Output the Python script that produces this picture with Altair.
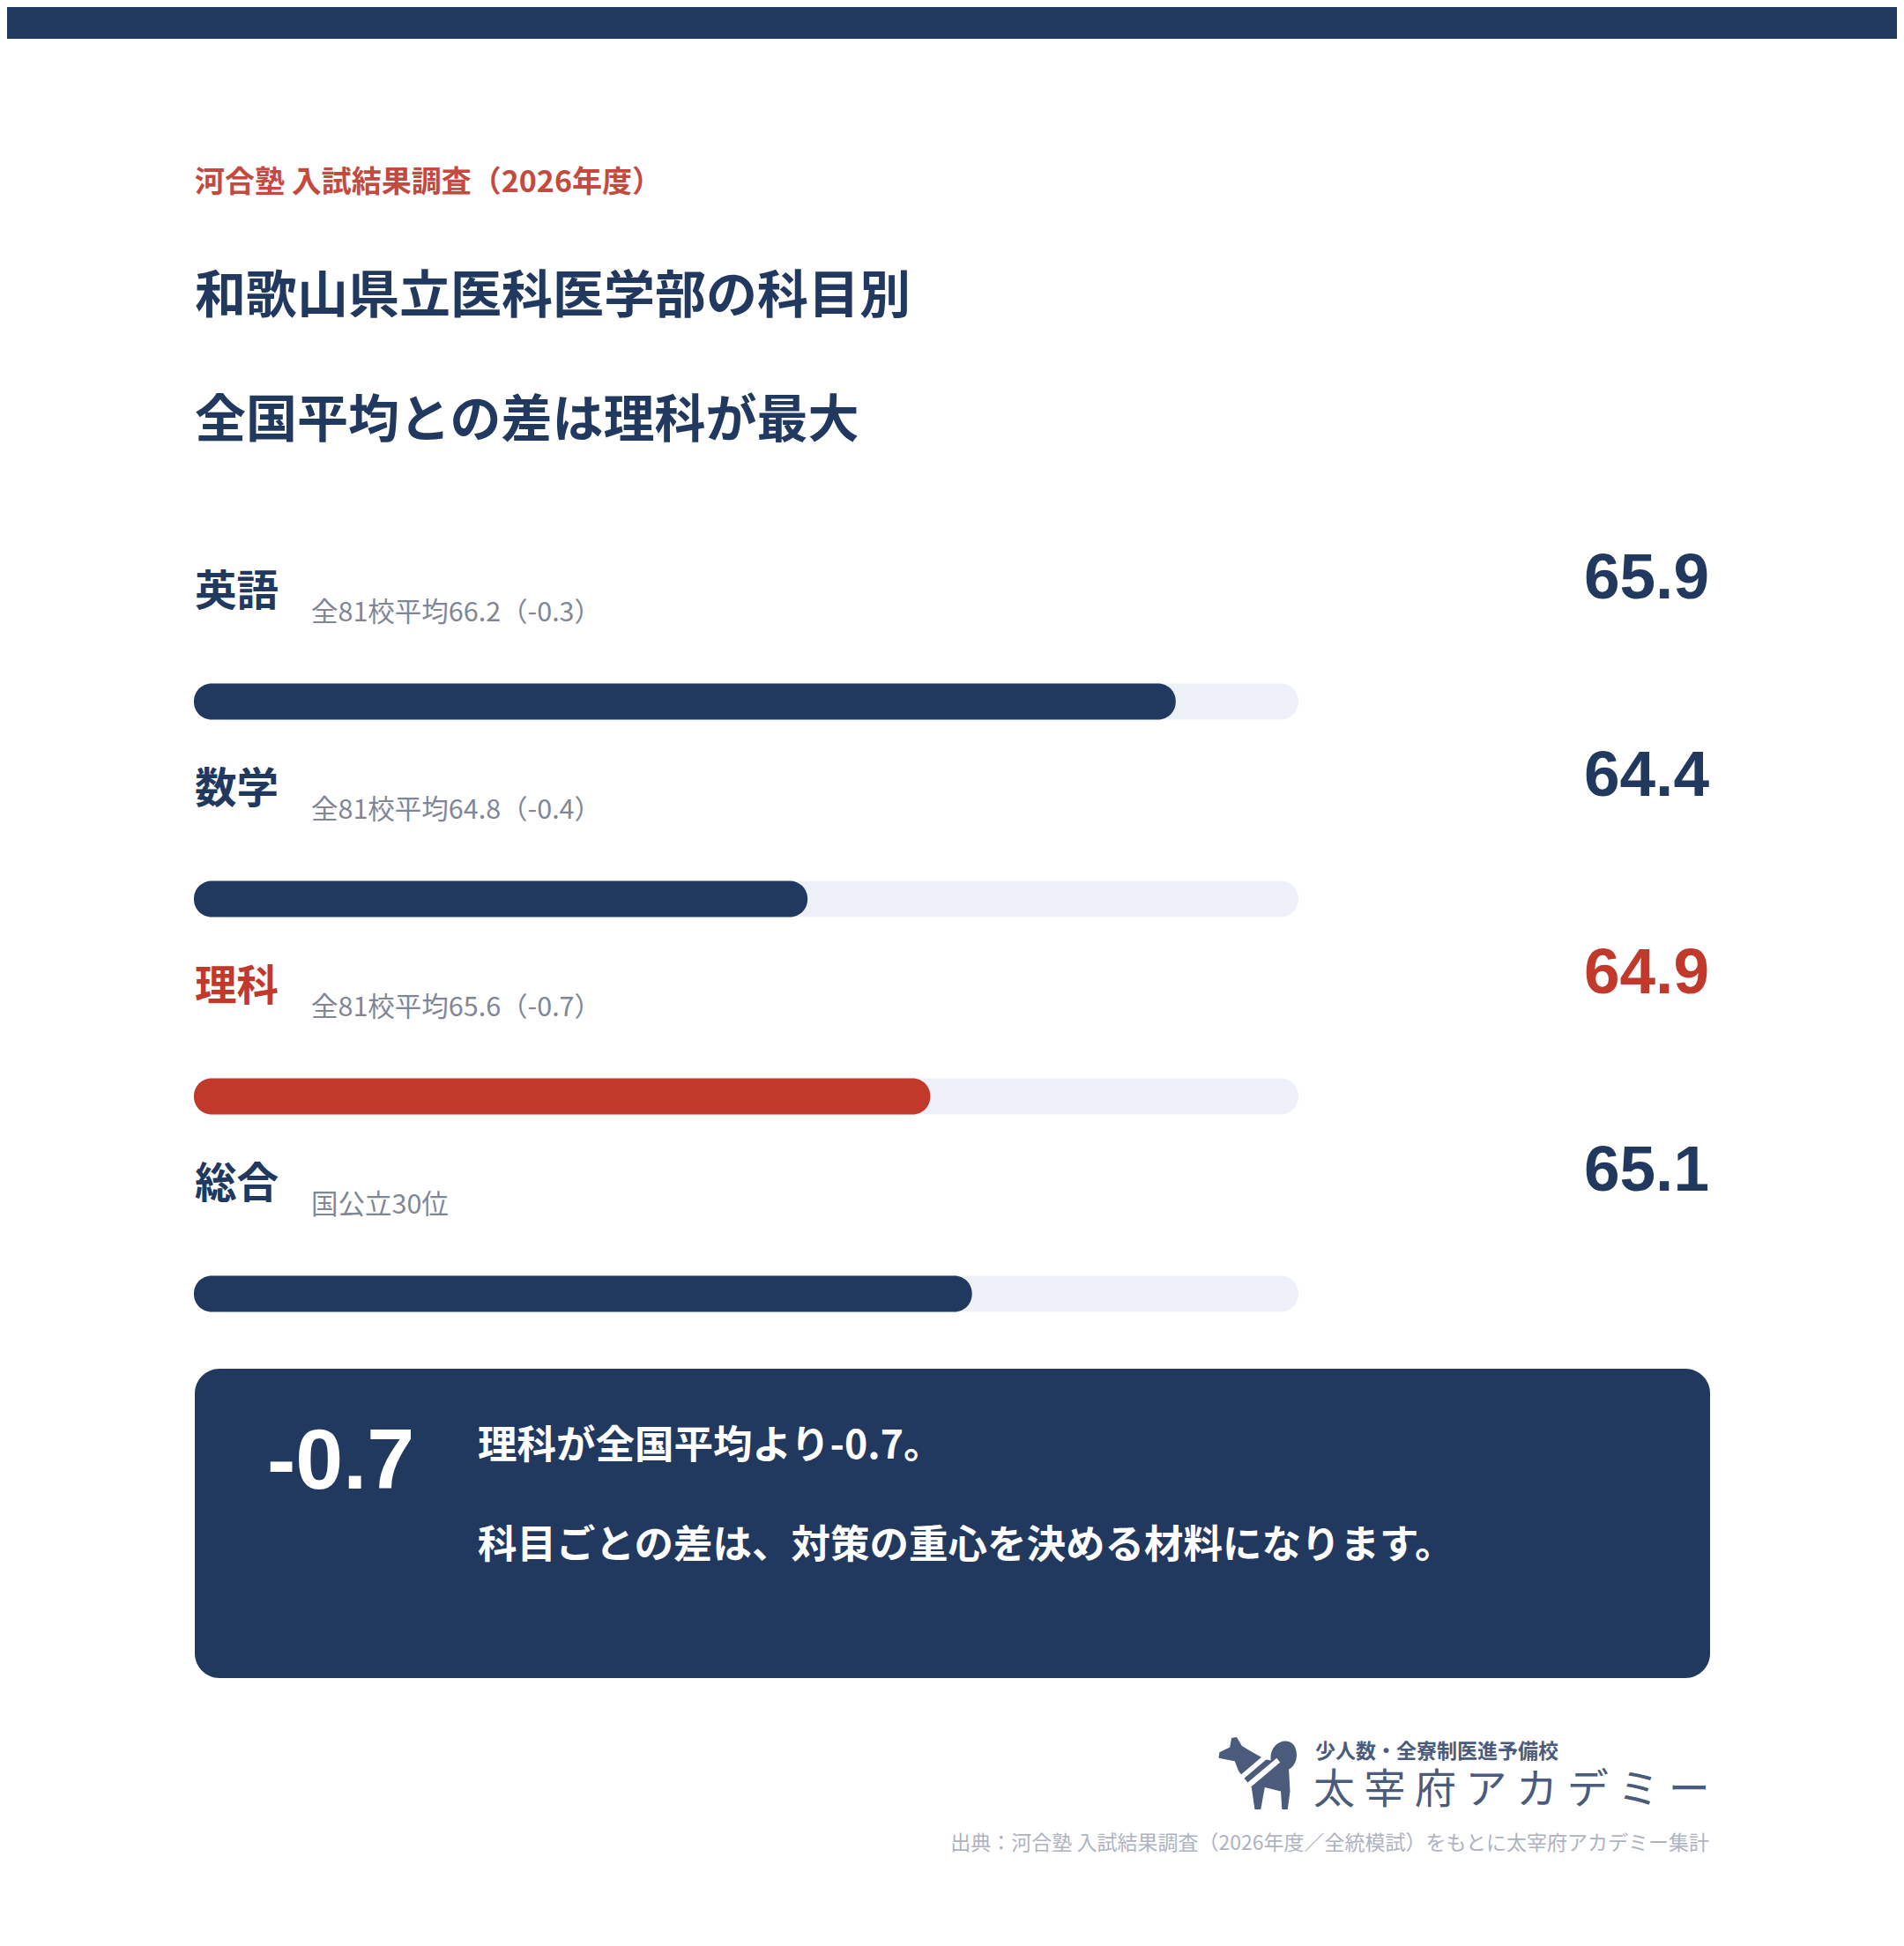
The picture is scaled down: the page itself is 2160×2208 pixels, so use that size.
import altair as alt
import pandas as pd

# ---------------- data ----------------
subjects = ["英語", "数学", "理科", "総合"]
scores = [65.9, 64.4, 64.9, 65.07]   # 総合 bar reads ~65.07, shown rounded as 65.1
national_avg = [66.2, 64.8, 65.6, None]
diffs = [-0.3, -0.4, -0.7, None]
rank_note = "国公立30位"
highlight = "理科"
AXIS_MIN = 61.9
AXIS_MAX = 66.4

kicker = "河合塾 入試結果調査（2026年度）"
title_lines = ["和歌山県立医科医学部の科目別", "全国平均との差は理科が最大"]
callout_value = "-0.7"
callout_lines = ["理科が全国平均より-0.7。", "科目ごとの差は、対策の重心を決める材料になります。"]
logo_small = "少人数・全寮制医進予備校"
logo_big = "太 宰 府 ア カ デ ミ ー"
source = "出典：河合塾 入試結果調査（2026年度／全統模試）をもとに太宰府アカデミー集計"

NAVY = "#21385f"
RED = "#c0392b"
KICKER_RED = "#c4493f"
TRACK = "#edf0f7"
GRAY = "#7f8797"
LIGHT = "#adb3c0"
LOGO = "#4a5b7c"
JP = "Noto Sans CJK JP"
NUM = "Liberation Sans"

W, H = 2144, 2192

notes = []
for a, d in zip(national_avg, diffs):
    if a is None:
        notes.append(rank_note)
    else:
        notes.append(f"全81校平均{a:.1f}（{d:.1f}）")

df = pd.DataFrame({
    "subject": subjects,
    "score": scores,
    "note": notes,
    "lo": [AXIS_MIN] * len(subjects),
    "hi": [AXIS_MAX] * len(subjects),
})

xscale = alt.Scale(domain=[AXIS_MIN, AXIS_MAX], range=[212, 1465], zero=False, nice=False)
yscale = alt.Scale(type="point", domain=subjects, range=[788, 1460], padding=0)
Y = alt.Y("subject:N", scale=yscale, axis=None)
col = alt.condition(alt.datum.subject == highlight, alt.value(RED), alt.value(NAVY))

base = alt.Chart(df)

track = base.mark_bar(size=41, cornerRadius=20, color=TRACK).encode(
    x=alt.X("lo:Q", scale=xscale, axis=None), x2="hi:Q", y=Y)
fill = base.mark_bar(size=41, cornerRadius=20).encode(
    x=alt.X("lo:Q", scale=xscale, axis=None), x2="score:Q", y=Y, color=col)
labels = base.mark_text(align="left", baseline="middle", dy=-123, fontSize=47.5,
                        fontWeight="bold", font=JP).encode(
    x=alt.value(213), y=Y, text="subject:N", color=col)
subs = base.mark_text(align="left", baseline="middle", dy=-100, fontSize=30.5,
                      font=JP, color=GRAY).encode(
    x=alt.value(345), y=Y, text="note:N")
vals = base.mark_text(align="right", baseline="middle", dy=-139, fontSize=73,
                      fontWeight="bold", font=NUM).encode(
    x=alt.value(1931), y=Y, text=alt.Text("score:Q", format=".1f"), color=col)


def one(text):
    return alt.Chart(pd.DataFrame({"t": [text]}))


band = one("").mark_rect(color=NAVY).encode(
    x=alt.value(0), x2=alt.value(W), y=alt.value(0), y2=alt.value(36))
kick = one(kicker).mark_text(align="left", baseline="middle", fontSize=34,
                              fontWeight="bold", font=JP, color=KICKER_RED).encode(
    x=alt.value(213), y=alt.value(200), text="t:N")
t1 = one(title_lines[0]).mark_text(align="left", baseline="middle", fontSize=58,
                                   fontWeight="bold", font=JP, color=NAVY).encode(
    x=alt.value(213), y=alt.value(330), text="t:N")
t2 = one(title_lines[1]).mark_text(align="left", baseline="middle", fontSize=58,
                                   fontWeight="bold", font=JP, color=NAVY).encode(
    x=alt.value(213), y=alt.value(471), text="t:N")

box = one("").mark_rect(color=NAVY, cornerRadius=28).encode(
    x=alt.value(213), x2=alt.value(1932), y=alt.value(1545), y2=alt.value(1896))
big = one(callout_value).mark_text(align="left", baseline="middle", fontSize=97,
                                   fontWeight="bold", font=NUM, color="white").encode(
    x=alt.value(295), y=alt.value(1652), text="t:N")
c1 = one(callout_lines[0]).mark_text(align="left", baseline="middle", fontSize=44.5,
                                     fontWeight="bold", font=JP, color="white").encode(
    x=alt.value(534), y=alt.value(1634), text="t:N")
c2 = one(callout_lines[1]).mark_text(align="left", baseline="middle", fontSize=44.5,
                                     fontWeight="bold", font=JP, color="white").encode(
    x=alt.value(534), y=alt.value(1747), text="t:N")

DOG = ("M -0.55 -0.9 L -0.42 -0.68 L -0.2 -0.55 L 0.15 -0.35 L 0.3 -0.32 "
       "C 0.25 -0.7 0.65 -0.95 0.88 -0.7 C 1.0 -0.5 0.95 -0.2 0.75 -0.1 "
       "L 0.78 0.45 L 0.72 0.9 L 0.58 0.9 L 0.55 0.45 L 0.15 0.35 L 0.05 0.9 "
       "L -0.1 0.9 L -0.18 0.35 L -0.5 -0.05 L -0.6 -0.3 L -1 -0.38 L -0.98 -0.52 "
       "L -0.72 -0.65 L -0.68 -0.88 Z")
STRIPES = ("M -0.38 0.32 L 0.45 -0.38 L 0.53 -0.27 L -0.3 0.43 Z "
           "M -0.46 0.05 L 0.15 -0.47 L 0.23 -0.38 L -0.39 0.15 Z")
dog = one("").mark_point(shape=DOG, filled=True, size=8281, color=LOGO,
                         opacity=1, strokeWidth=0).encode(
    x=alt.value(1420), y=alt.value(2004))
dog_s = one("").mark_point(shape=STRIPES, filled=True, size=8281, color="white",
                           opacity=1, strokeWidth=0).encode(
    x=alt.value(1420), y=alt.value(2004))
lg1 = one(logo_small).mark_text(align="left", baseline="middle", fontSize=23,
                                fontWeight="bold", font=JP, color=LOGO).encode(
    x=alt.value(1484), y=alt.value(1980), text="t:N")
lg2 = one(logo_big).mark_text(align="left", baseline="middle", fontSize=47,
                              font=JP, color=LOGO).encode(
    x=alt.value(1482), y=alt.value(2024), text="t:N")
src = one(source).mark_text(align="right", baseline="middle", fontSize=23,
                            font=JP, color=LIGHT).encode(
    x=alt.value(1931), y=alt.value(2084), text="t:N")

chart = alt.layer(
    band, kick, t1, t2,
    track, fill, labels, subs, vals,
    box, big, c1, c2,
    dog, dog_s, lg1, lg2, src,
).properties(
    width=W, height=H,
    autosize=alt.AutoSizeParams(type="none"),
    padding=0,
    background="white",
).configure_view(stroke=None)

chart.save("out.html", embed_options={"renderer": "svg", "actions": False})
